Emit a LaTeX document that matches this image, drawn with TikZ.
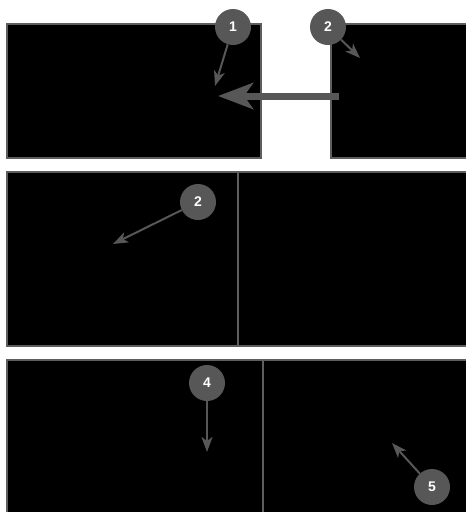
\documentclass[tikz,border=0pt]{standalone}
\usepackage{fontspec}
\setmainfont{Liberation Sans}
\usetikzlibrary{arrows.meta}
\definecolor{bordergray}{HTML}{5E5E5E}
\definecolor{badgegray}{HTML}{575757}
\tikzset{
  screen/.style={draw=bordergray, line width=2.5pt, fill=black},
  badge/.style={circle, fill=badgegray, minimum size=36pt, inner sep=0pt, text=white, font=\fontsize{14}{14}\selectfont\bfseries},
  pointer/.style={draw=badgegray, line width=2pt, -{Stealth[length=15pt, width=11pt, inset=4pt]}},
  bigpointer/.style={draw=badgegray, line width=7pt, -{Stealth[length=35pt, width=26pt, inset=9pt]}}
}
\begin{document}
\begin{tikzpicture}[x=1pt, y=-1pt]
\useasboundingbox (0,0) rectangle (466,512);
\clip (0,0) rectangle (466,512);
\fill[white] (0,0) rectangle (466,512);
% top panel
\draw[screen] (7,24) rectangle (261,158);
\draw[screen] (331,24) rectangle (480,158);
% middle panel
\draw[screen] (7,172) rectangle (480,346);
\draw[bordergray, line width=2.5pt] (238,172) -- (238,346);
% bottom panel
\draw[screen] (7,360) rectangle (480,530);
\draw[bordergray, line width=2.5pt] (263,360) -- (263,530);
% big arrow
\coordinate (bs) at (339,96);
\coordinate (be) at (218,96);
\draw[bigpointer] (bs) -- (be);
% badges
\node[badge] (b1) at (233,27) {1};
\node[badge] (b2) at (328,27) {2};
\node[badge] (b3) at (198,202) {2};
\node[badge] (b4) at (207,383) {4};
\node[badge] (b5) at (432,487) {5};
\coordinate (t1) at (215,86);
\coordinate (t2) at (360,58);
\coordinate (t3) at (113,244);
\coordinate (t4) at (207,452);
\coordinate (t5) at (392,443);
\draw[pointer] (b1) -- (t1);
\draw[pointer] (b2) -- (t2);
\draw[pointer] (b3) -- (t3);
\draw[pointer] (b4) -- (t4);
\draw[pointer] (b5) -- (t5);
\end{tikzpicture}
\end{document}
